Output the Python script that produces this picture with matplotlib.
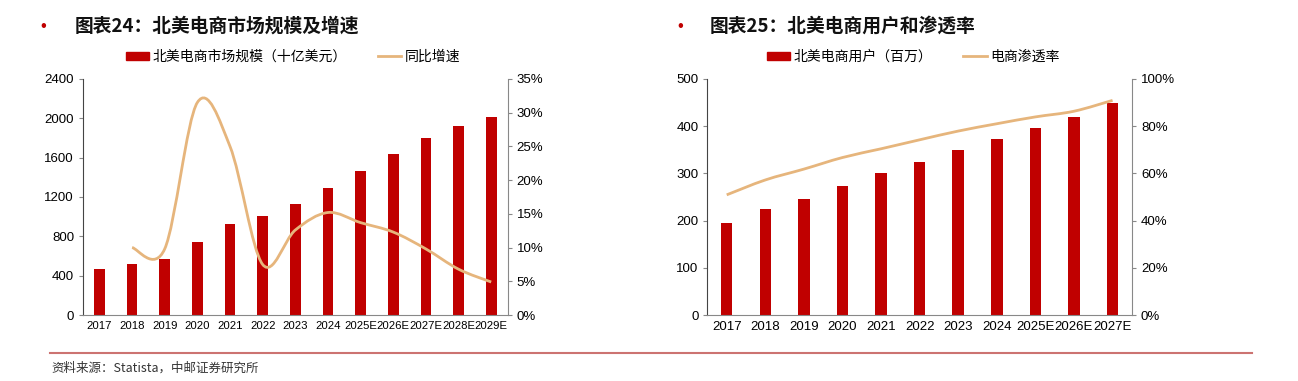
import matplotlib
matplotlib.use("Agg")
import matplotlib.pyplot as plt
from matplotlib.path import Path
from matplotlib.patches import PathPatch, Patch
from matplotlib.lines import Line2D
import matplotlib.ticker as mticker

plt.rcParams["font.family"] = ["Liberation Sans", "Noto Sans CJK SC", "DejaVu Sans"]

CJK = ["Noto Sans CJK SC", "DejaVu Sans"]
RED = "#C00000"
TAN = "#E6B57C"

# chart 24: market size (bn USD) and yoy growth
years_a = ["2017", "2018", "2019", "2020", "2021", "2022", "2023", "2024",
           "2025E", "2026E", "2027E", "2028E", "2029E"]
market = [472, 519, 570, 743, 927, 1005, 1124, 1293, 1466, 1640, 1802, 1921, 2010]
growth = [None, 10.0, 9.8, 31.5, 25.0, 7.5, 12.6, 15.2, 13.7, 12.3, 9.8, 6.8, 4.9]

# chart 25: users (millions) and penetration
years_b = ["2017", "2018", "2019", "2020", "2021", "2022", "2023", "2024",
           "2025E", "2026E", "2027E"]
users = [194, 224, 246, 274, 300, 325, 350, 373, 397, 419, 449]
penetration = [50.9, 57.2, 61.8, 66.7, 70.4, 74.2, 77.9, 81.0, 83.9, 86.3, 90.9]


def smooth_path(xs, ys):
    # Catmull-Rom style cubic bezier, like a spreadsheet "smoothed line"
    pts = list(zip(xs, ys))
    verts = [pts[0]]
    codes = [Path.MOVETO]
    n = len(pts)
    for i in range(n - 1):
        p0 = pts[i - 1] if i > 0 else pts[i]
        p1 = pts[i]
        p2 = pts[i + 1]
        p3 = pts[i + 2] if i + 2 < n else pts[i + 1]
        c1 = (p1[0] + (p2[0] - p0[0]) / 6, p1[1] + (p2[1] - p0[1]) / 6)
        c2 = (p2[0] - (p3[0] - p1[0]) / 6, p2[1] - (p3[1] - p1[1]) / 6)
        verts += [c1, c2, p2]
        codes += [Path.CURVE4] * 3
    return Path(verts, codes)


def style_axes(ax, ax2, xsize):
    for a in (ax, ax2):
        a.spines["top"].set_visible(False)
        a.tick_params(labelsize=9.5, length=3, width=0.8, color="#888888")
    ax.spines["right"].set_visible(False)
    ax2.spines["left"].set_visible(False)
    ax2.spines["bottom"].set_visible(False)
    ax.spines["left"].set_color("#444444")
    ax.spines["bottom"].set_color("#888888")
    ax2.spines["right"].set_color("#888888")
    ax.tick_params(axis="x", length=0, pad=4, labelsize=xsize)
    ax.patch.set_alpha(0)


fig = plt.figure(figsize=(12.98, 3.81), dpi=100)

# ---------------- left chart ----------------
ax1 = fig.add_axes([0.064, 0.173, 0.327, 0.620])
ax1b = ax1.twinx()
x_a = list(range(len(years_a)))
ax1.bar(x_a, market, width=0.33, color=RED, zorder=2)
ax1.set_xlim(-0.5, len(years_a) - 0.5)
ax1.set_ylim(0, 2400)
ax1.set_yticks(range(0, 2401, 400))
ax1.set_xticks(x_a)
ax1.set_xticklabels(years_a)
gx = [x for x, g in zip(x_a, growth) if g is not None]
gy = [g for g in growth if g is not None]
ax1b.add_patch(PathPatch(smooth_path(gx, gy), fill=False, edgecolor=TAN, lw=2.0))
ax1b.set_ylim(0, 35)
ax1b.set_yticks(range(0, 36, 5))
ax1b.yaxis.set_major_formatter(mticker.FuncFormatter(lambda v, _: f"{int(v)}%"))
style_axes(ax1, ax1b, 8.2)

# ---------------- right chart ----------------
ax2 = fig.add_axes([0.545, 0.173, 0.327, 0.620])
ax2b = ax2.twinx()
x_b = list(range(len(years_b)))
ax2.bar(x_b, users, width=0.30, color=RED, zorder=2)
ax2.set_xlim(-0.5, len(years_b) - 0.5)
ax2.set_ylim(0, 500)
ax2.set_yticks(range(0, 501, 100))
ax2.set_xticks(x_b)
ax2.set_xticklabels(years_b)
ax2b.add_patch(PathPatch(smooth_path(x_b, penetration), fill=False, edgecolor=TAN, lw=2.0))
ax2b.set_ylim(0, 100)
ax2b.set_yticks(range(0, 101, 20))
ax2b.yaxis.set_major_formatter(mticker.FuncFormatter(lambda v, _: f"{int(v)}%"))
style_axes(ax2, ax2b, 9.5)

# ---------------- titles and legends ----------------
for bx, tx, title in [(43, 75, "图表24：北美电商市场规模及增速"),
                      (680, 710, "图表25：北美电商用户和渗透率")]:
    fig.text(bx / 1298, 1 - 27 / 381, "•", color=RED, fontsize=12,
             ha="center", va="center")
    fig.text(tx / 1298, 1 - 26 / 381, title, family=CJK, fontsize=13.5,
             fontweight="bold", ha="left", va="center", color="#111111")

legend_kw = dict(ncol=2, frameon=False, handlelength=1.7, handleheight=0.55,
                 handletextpad=0.25, columnspacing=2.2,
                 prop={"family": CJK, "size": 10})
fig.legend([Patch(color=RED), Line2D([], [], color=TAN, lw=2)],
           ["北美电商市场规模（十亿美元）", "同比增速"],
           loc="center", bbox_to_anchor=(293 / 1298, 1 - 57 / 381), **legend_kw)
fig.legend([Patch(color=RED), Line2D([], [], color=TAN, lw=2)],
           ["北美电商用户（百万）", "电商渗透率"],
           loc="center", bbox_to_anchor=(913 / 1298, 1 - 57 / 381), **legend_kw)

# ---------------- footer ----------------
fig.add_artist(Line2D([50 / 1298, 1252 / 1298], [1 - 353 / 381, 1 - 353 / 381],
                      color="#C0504D", lw=1.5, alpha=0.8))
fig.text(51 / 1298, 1 - 368 / 381, "资料来源：Statista，中邮证券研究所",
         family=CJK, fontsize=9, color="#333333", ha="left", va="center")

fig.savefig("out.png", dpi=100)
